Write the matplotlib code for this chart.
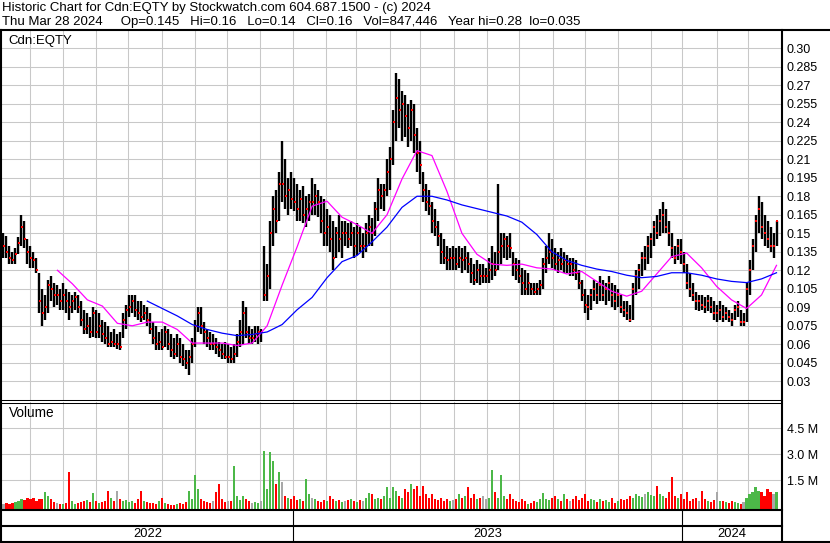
import matplotlib
matplotlib.use('Agg')
import matplotlib.pyplot as plt
from matplotlib.lines import Line2D
import numpy as np
import pandas as pd

plt.rcParams['font.family'] = ['Liberation Sans', 'DejaVu Sans']

# one bar for every second trading day, prices in thousandths of a dollar
high = [150, 148, 140, 135, 138, 147, 165, 160, 145, 140,
        135, 130, 118, 105, 100, 112, 115, 110, 108, 105,
        110, 105, 102, 100, 102, 100, 95, 88, 85, 82,
        90, 88, 85, 80, 78, 75, 70, 72, 68, 70,
        85, 92, 100, 100, 100, 95, 95, 92, 90, 85,
        78, 75, 70, 72, 75, 72, 68, 65, 68, 65,
        60, 55, 55, 65, 80, 90, 90, 78, 72, 70,
        68, 65, 62, 60, 62, 60, 58, 60, 68, 80,
        95, 90, 75, 72, 75, 75, 72, 140, 125, 160,
        180, 185, 200, 225, 210, 195, 200, 195, 190, 185,
        188, 180, 182, 195, 190, 185, 180, 178, 170, 165,
        160, 155, 165, 160, 160, 158, 160, 155, 158, 155,
        150, 158, 165, 162, 175, 195, 190, 190, 210, 220,
        250, 280, 275, 265, 262, 255, 258, 255, 235, 225,
        200, 190, 185, 175, 170, 160, 150, 145, 140, 138,
        140, 138, 140, 138, 140, 135, 130, 125, 128, 125,
        125, 122, 130, 140, 135, 190, 150, 150, 148, 150,
        135, 130, 128, 122, 120, 118, 110, 110, 110, 112,
        130, 140, 150, 145, 138, 135, 138, 135, 132, 130,
        130, 128, 120, 112, 105, 100, 105, 112, 110, 115,
        112, 110, 115, 110, 108, 105, 100, 95, 95, 92,
        110, 120, 125, 135, 140, 148, 150, 160, 165, 170,
        175, 170, 160, 150, 140, 145, 145, 135, 125, 118,
        110, 102, 100, 100, 98, 100, 98, 95, 92, 95,
        92, 90, 88, 85, 92, 95, 88, 85, 110, 128,
        145, 165, 180, 175, 165, 160, 155, 150, 160]
low = [130, 130, 125, 125, 125, 133, 140, 138, 125, 122,
       122, 118, 85, 75, 80, 85, 95, 90, 92, 88,
       88, 85, 80, 85, 88, 85, 75, 68, 68, 65,
       66, 65, 65, 62, 60, 58, 58, 58, 56, 55,
       65, 72, 82, 85, 82, 80, 78, 80, 75, 68,
       60, 55, 55, 55, 58, 55, 50, 48, 50, 45,
       42, 40, 35, 45, 58, 70, 68, 60, 58, 55,
       55, 52, 50, 48, 48, 45, 45, 45, 50, 58,
       60, 65, 60, 60, 62, 60, 62, 95, 95, 105,
       140, 150, 160, 175, 170, 165, 170, 168, 160, 160,
       158, 155, 160, 165, 165, 163, 150, 140, 140, 135,
       120, 130, 135, 130, 140, 138, 140, 130, 132, 135,
       130, 135, 140, 140, 148, 160, 170, 168, 180, 185,
       205, 225, 235, 225, 228, 220, 225, 215, 200, 190,
       175, 168, 165, 150, 148, 140, 125, 125, 120, 120,
       120, 120, 122, 118, 120, 118, 110, 108, 110, 108,
       110, 110, 110, 112, 115, 120, 125, 130, 128, 130,
       115, 112, 110, 100, 100, 100, 100, 100, 100, 100,
       105, 118, 125, 122, 120, 118, 120, 118, 118, 115,
       115, 112, 105, 95, 85, 80, 88, 95, 93, 95,
       95, 92, 95, 90, 88, 90, 85, 82, 80, 78,
       80, 100, 105, 115, 120, 125, 130, 140, 145, 148,
       150, 150, 140, 130, 125, 128, 125, 118, 105, 98,
       95, 88, 87, 88, 85, 87, 85, 80, 78, 80,
       78, 80, 78, 75, 80, 82, 75, 75, 78, 100,
       120, 135, 150, 145, 140, 138, 135, 130, 140]
close = [140, 135, 130, 128, 133, 142, 155, 145, 135, 130,
         128, 120, 95, 85, 90, 108, 105, 100, 100, 95,
         100, 95, 90, 95, 98, 90, 80, 72, 75, 70,
         85, 70, 75, 68, 65, 60, 62, 60, 60, 58,
         80, 88, 90, 95, 88, 85, 82, 85, 80, 72,
         65, 60, 62, 58, 70, 60, 55, 52, 60, 50,
         48, 45, 50, 60, 75, 85, 75, 70, 65, 60,
         60, 58, 55, 52, 50, 50, 48, 52, 62, 70,
         85, 70, 65, 65, 68, 70, 70, 100, 115, 150,
         170, 160, 190, 190, 180, 185, 178, 175, 170, 178,
         165, 170, 175, 175, 180, 175, 160, 150, 155, 145,
         130, 150, 145, 150, 150, 145, 150, 140, 150, 140,
         140, 150, 155, 150, 170, 185, 180, 185, 200, 210,
         240, 260, 250, 255, 245, 235, 250, 230, 215, 205,
         185, 175, 172, 160, 155, 148, 135, 130, 128, 130,
         130, 125, 130, 128, 130, 125, 118, 112, 120, 115,
         115, 115, 120, 125, 120, 135, 140, 145, 140, 138,
         125, 120, 115, 110, 105, 110, 105, 102, 105, 108,
         125, 130, 135, 130, 125, 128, 125, 128, 125, 125,
         120, 118, 110, 100, 92, 90, 100, 105, 100, 108,
         100, 105, 110, 100, 95, 100, 90, 88, 85, 80,
         105, 115, 120, 130, 130, 140, 145, 155, 150, 160,
         165, 155, 150, 138, 130, 140, 135, 125, 110, 105,
         100, 95, 95, 92, 90, 95, 90, 85, 85, 88,
         82, 85, 82, 80, 88, 90, 78, 78, 105, 120,
         140, 160, 170, 155, 150, 145, 140, 140, 160]
# volume in thousands of shares
volume = [150, 200, 120, 180, 250, 300, 400, 350, 500, 450,
          500, 300, 400, 450, 800, 600, 400, 250, 200, 150,
          150, 200, 2000, 300, 150, 200, 250, 300, 350, 250,
          750, 300, 200, 250, 300, 900, 500, 300, 900, 400,
          300, 350, 250, 300, 200, 400, 900, 300, 250, 200,
          200, 150, 300, 500, 200, 150, 100, 100, 150, 200,
          150, 250, 900, 400, 1800, 1000, 400, 300, 250, 200,
          300, 800, 1300, 400, 250, 300, 300, 2300, 600, 350,
          600, 400, 300, 200, 250, 200, 300, 3200, 1000, 3100,
          2600, 1300, 2000, 1400, 600, 500, 400, 600, 350, 400,
          300, 1600, 700, 500, 400, 300, 250, 350, 300, 600,
          400, 300, 350, 250, 300, 350, 400, 300, 250, 350,
          300, 500, 750, 700, 400, 500, 450, 600, 1100, 500,
          1100, 900, 600, 500, 1000, 800, 1300, 1000, 1200, 600,
          1200, 700, 500, 700, 400, 350, 500, 300, 400, 300,
          350, 400, 700, 500, 600, 1100, 500, 700, 400, 500,
          600, 400, 500, 2100, 800, 500, 1800, 600, 400, 700,
          400, 300, 250, 400, 300, 150, 200, 300, 250, 400,
          750, 400, 350, 500, 600, 400, 300, 700, 400, 300,
          450, 600, 350, 500, 700, 300, 400, 350, 250, 400,
          300, 350, 250, 500, 200, 300, 400, 350, 400, 600,
          500, 700, 600, 550, 700, 800, 650, 600, 1200, 700,
          600, 500, 800, 1700, 600, 500, 700, 400, 800, 300,
          400, 500, 300, 900, 400, 300, 250, 350, 800, 300,
          300, 250, 200, 300, 250, 200, 150, 250, 500, 700,
          800, 1100, 900, 800, 600, 1000, 800, 700, 850]

# moving averages read every 5th bar (starting with the 4th), thousandths
nan = float('nan')
ma_short = [nan, nan, nan, 120, 109, 96, 91, 77, 75, 78, 78, 72, 61, 61, 61,
            59, 61, 75, 108, 139, 172, 176, 163, 157, 150, 165, 194, 217, 213,
            184, 150, 133, 125, 124, 125, 122, 121, 117, 119, 111, 103, 99,
            103, 117, 131, 134, 122, 107, 96, 89, 100, 124]
ma_long = [nan, nan, nan, nan, nan, nan, nan, nan, nan, 95, 89, 83, 76, 72,
           69, 67, 68, 70, 76, 88, 98, 114, 127, 132, 143, 155, 171, 180, 180,
           177, 173, 170, 167, 164, 159, 149, 135, 128, 124, 121, 119, 116,
           114, 115, 118, 118, 116, 113, 111, 110, 113, 118]

price_ticks = [0.03, 0.045, 0.06, 0.075, 0.09, 0.105, 0.12, 0.135, 0.15, 0.165,
               0.18, 0.195, 0.21, 0.225, 0.24, 0.255, 0.27, 0.285, 0.30]
price_labels = ['0.03', '0.045', '0.06', '0.075', '0.09', '0.105', '0.12', '0.135',
                '0.15', '0.165', '0.18', '0.195', '0.21', '0.225', '0.24', '0.255',
                '0.27', '0.285', '0.30']
vol_ticks = [1.5e6, 3.0e6, 4.5e6]
vol_labels = ['1.5 M', '3.0 M', '4.5 M']

header1 = 'Historic Chart for Cdn:EQTY by Stockwatch.com 604.687.1500 - (c) 2024'
header2 = ('Thu Mar 28 2024     Op=0.145   Hi=0.16   Lo=0.14   Cl=0.16   '
           'Vol=847,446   Year hi=0.28  lo=0.035')

W, H = 830, 543
GRID = '#c8c8c8'


def fx(x):
    return x / W


def fy(y):
    return 1 - y / H


# trading day axis, bars on every second day ending Mar 28 2024
days = pd.bdate_range(end='2024-03-28', periods=517)
pos = np.arange(0, len(days), 2)
ym = days.year * 12 + days.month
month_starts = np.flatnonzero(np.diff(ym)) + 1
year_starts = np.flatnonzero(np.diff(days.year)) + 1

hi = np.array(high) / 1000
lo = np.array(low) / 1000
cl = np.array(close) / 1000
vol = np.array(volume) * 1000.0

fig = plt.figure(figsize=(W / 100, H / 100), dpi=100)
xlim = (-1, len(days) + 2)

# price panel
ax1 = fig.add_axes([fx(2), fy(400), fx(781) - fx(2), fy(31) - fy(400)])
ax1.set_xlim(xlim)
ax1.set_ylim(0.01483, 0.3140)
ax1.set_xticks(month_starts)
ax1.set_yticks(price_ticks)
ax1.set_yticklabels(price_labels)
ax1.yaxis.tick_right()
ax1.tick_params(axis='both', length=0, labelsize=9, pad=4)
ax1.tick_params(axis='x', labelbottom=False)
ax1.grid(True, color=GRID, lw=0.75)
ax1.set_axisbelow(True)
for s in ax1.spines.values():
    s.set_visible(False)
ax1.vlines(pos, lo, hi, color='black', lw=1.7, zorder=2)
ax1.scatter(pos + 0.5, cl, marker='s', s=4, color='red', lw=0, zorder=3)
ma_pos = pos[3::5]
ax1.plot(ma_pos, np.array(ma_short) / 1000, color='#ff00ff', lw=0.9, zorder=4)
ax1.plot(ma_pos, np.array(ma_long) / 1000, color='#0000ff', lw=0.9, zorder=4)
ax1.text(fx(8), fy(41), 'Cdn:EQTY', transform=fig.transFigure, fontsize=9.5,
         va='center', ha='left')

# volume panel
ax2 = fig.add_axes([fx(2), fy(509), fx(781) - fx(2), fy(402) - fy(509)])
vlo = -0.15e6
ax2.set_xlim(xlim)
ax2.set_ylim(vlo, 6.0e6)
ax2.set_xticks(month_starts)
ax2.set_yticks(vol_ticks)
ax2.set_yticklabels(vol_labels)
ax2.yaxis.tick_right()
ax2.tick_params(axis='both', length=0, labelsize=9, pad=4)
ax2.tick_params(axis='x', labelbottom=False)
ax2.grid(True, color=GRID, lw=0.75)
ax2.set_axisbelow(True)
for s in ax2.spines.values():
    s.set_visible(False)
chg = np.diff(cl, prepend=cl[0])
colors = np.where(chg > 0, '#4cb848', np.where(chg < 0, '#ff0000', '#a8a8a8'))
ax2.bar(pos, vol - vlo, bottom=vlo, width=1.4, color=colors, lw=0)
ax2.text(fx(9), fy(413), 'Volume', transform=fig.transFigure, fontsize=9.8,
         va='center', ha='left')

# date strip
ax3 = fig.add_axes([fx(2), fy(541), fx(781) - fx(2), fy(509) - fy(541)])
ax3.set_xlim(xlim)
ax3.set_ylim(0, 1)
ax3.axis('off')
ax3.vlines(year_starts, 0, 1, color='black', lw=0.8)
edges = [xlim[0]] + list(year_starts) + [xlim[1]]
for i, yr in enumerate(['2022', '2023', '2024']):
    ax3.text((edges[i] + edges[i + 1]) / 2, 0.22, yr, ha='center', va='center',
             fontsize=9.3)


# frame lines
def hline(y, x0, x1, w):
    fig.add_artist(Line2D([fx(x0), fx(x1)], [fy(y), fy(y)], color='black',
                          lw=w, transform=fig.transFigure))


def vline(x, y0, y1, w):
    fig.add_artist(Line2D([fx(x), fx(x)], [fy(y0), fy(y1)], color='black',
                          lw=w, transform=fig.transFigure))


hline(30, 0, W, 1.5)
hline(400, 0, 782, 0.75)
hline(402.5, 0, 782, 0.75)
hline(509.5, 0, 782, 1.5)
hline(526, 0, 782, 1.5)
hline(541.5, 0, W, 1.5)
vline(1, 30, 543, 1.5)
vline(782, 30, 543, 1.5)

fig.text(fx(2), fy(8), header1, fontsize=9.5, va='center', ha='left')
fig.text(fx(2), fy(22), header2, fontsize=9.5, va='center', ha='left')

fig.savefig('out.png', dpi=100)
